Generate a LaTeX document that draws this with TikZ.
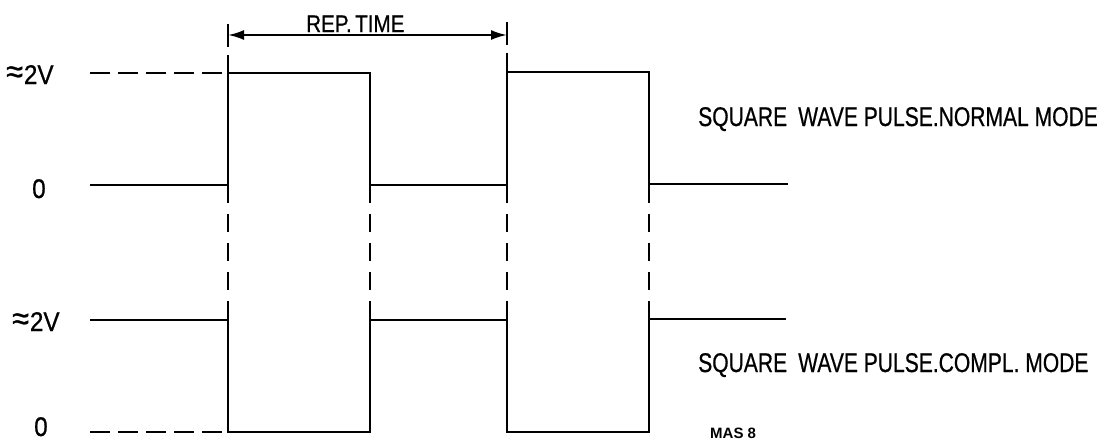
\documentclass[tikz,border=0pt]{standalone}
\usepackage{fontspec}
\setmainfont{Liberation Sans}
\newfontfamily\heavyfont[FakeBold=0.7]{Liberation Sans}
\usetikzlibrary{arrows.meta}
\tikzset{
  wave/.style={line width=2.8pt, line join=miter, line cap=butt},
  dashh/.style={line width=2.4pt, dash pattern=on 20pt off 8pt},
  dashv/.style={line width=2.4pt, dash pattern=on 18pt off 11pt},
  tickline/.style={line width=2.4pt},
  dimline/.style={line width=2.2pt, {Latex[length=16pt,width=10pt]}-{Latex[length=16pt,width=10pt]}},
  lbl/.style={inner sep=0pt, anchor=base west, font=\heavyfont\fontsize{27}{29}\selectfont},
  captext/.style={inner sep=0pt, anchor=base west, font=\heavyfont\fontsize{27}{29}\selectfont},
  smalltext/.style={inner sep=0pt, anchor=base west, font=\fontsize{15}{17}\selectfont\bfseries}
}
\newcommand{\apx}{\raisebox{1pt}{\fontsize{34}{34}\selectfont ≈}}
\begin{document}
\begin{tikzpicture}[x=1pt,y=-1pt]
\useasboundingbox[fill=white] (0,0) rectangle (1106,440);
% level labels
\node[lbl] (h1) at (6,84) {\scalebox{0.9}[1]{\apx\hspace{1pt}2V}};
\node[lbl] (z1) at (32,198) {\scalebox{0.9}[1]{0}};
\node[lbl] (h2) at (12,331) {\scalebox{0.9}[1]{\apx\hspace{1pt}2V}};
\node[lbl] (z2) at (34,436) {\scalebox{0.9}[1]{0}};
% captions
\node[captext] (c1) at (698,126) {\scalebox{0.78}[1]{SQUARE\hspace{0.25em} WAVE PULSE.NORMAL MODE}};
\node[captext] (c2) at (698,372) {\scalebox{0.78}[1]{SQUARE\hspace{0.25em} WAVE PULSE.COMPL. MODE}};
\node[smalltext] (mas) at (710,438) {MAS 8};
\node[inner sep=0pt, anchor=base west, font=\heavyfont\fontsize{24}{26}\selectfont] (rep) at (306,32) {\scalebox{0.86}[1]{REP.\,TIME}};
% top waveform
\draw[wave] (90,185) -- (228,185) -- (228,73) -- (370,73) -- (370,185) -- (507,185) -- (507,72) -- (649,72) -- (649,184) -- (788,184);
\draw[dashh] (90,73) -- (228,73);
% bottom waveform
\draw[wave] (90,320) -- (228,320) -- (228,432) -- (370,432) -- (370,320) -- (507,320) -- (507,432) -- (649,432) -- (649,319) -- (786,319);
\draw[dashh] (90,432) -- (228,432);
% vertical dashed guides
\foreach \x in {228,370,507,649} {
  \draw[dashv] (\x,185) -- (\x,320);
}
% dimension arrow
\coordinate (a1) at (228,35);
\coordinate (a2) at (507,35);
\draw[tickline] (228,24) -- (228,47);
\draw[tickline] (228,55) -- (228,73);
\draw[tickline] (507,22) -- (507,45);
\draw[tickline] (507,53) -- (507,72);
\draw[dimline] (a1) -- (a2);
\end{tikzpicture}
\end{document}
